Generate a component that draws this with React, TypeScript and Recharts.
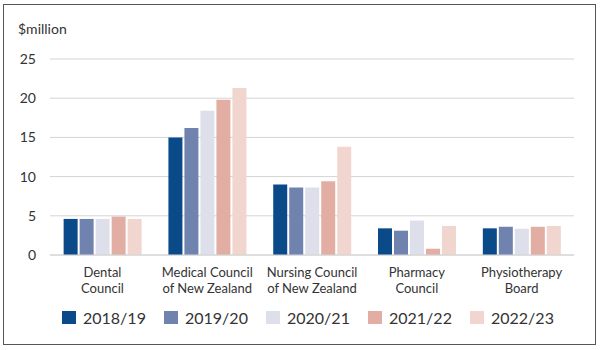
import { Bar, BarChart, CartesianGrid, XAxis, YAxis } from "recharts";

const councils = [
  "Dental Council",
  "Medical Council of New Zealand",
  "Nursing Council of New Zealand",
  "Pharmacy Council",
  "Physiotherapy Board",
];
const tickLines: string[][] = [
  ["Dental", "Council"],
  ["Medical Council", "of New Zealand"],
  ["Nursing Council", "of New Zealand"],
  ["Pharmacy", "Council"],
  ["Physiotherapy", "Board"],
];
const years = ["2018/19", "2019/20", "2020/21", "2021/22", "2022/23"];
const y2018 = [4.6, 15.0, 9.0, 3.4, 3.4];
const y2019 = [4.6, 16.2, 8.6, 3.1, 3.6];
const y2020 = [4.6, 18.4, 8.6, 4.4, 3.35];
const y2021 = [4.9, 19.8, 9.4, 0.8, 3.6];
const y2022 = [4.6, 21.3, 13.8, 3.7, 3.7];
const yTicks = [0, 5, 10, 15, 20, 25];

const colors = ["#0a4a89", "#7083af", "#dde0eb", "#e2aea3", "#f1d5cf"];
const font = "Lato, 'Noto Sans', sans-serif";

const data = councils.map((name, i) => ({
  name,
  [years[0]]: y2018[i],
  [years[1]]: y2019[i],
  [years[2]]: y2020[i],
  [years[3]]: y2021[i],
  [years[4]]: y2022[i],
}));

function CouncilTick(props: any) {
  const { x, y, payload } = props;
  const lines = tickLines[councils.indexOf(payload.value)] || [payload.value];
  return (
    <g transform={`translate(${x},${y})`}>
      {lines.map((l, i) => (
        <text
          key={i}
          x={0}
          y={14 + i * 16}
          textAnchor="middle"
          fill="#333"
          fontSize={13}
          fontFamily={font}
        >
          {l}
        </text>
      ))}
    </g>
  );
}

export default function App() {
  return (
    <div
      style={{
        position: "fixed",
        left: 0,
        top: 0,
        width: 600,
        height: 350,
        background: "#fff",
        fontFamily: font,
      }}
    >
      <div
        style={{
          position: "absolute",
          left: 3,
          top: 4,
          width: 591,
          height: 339,
          border: "1px solid #555",
        }}
      />
      <div
        style={{
          position: "absolute",
          left: 18,
          top: 20,
          fontSize: 14,
          color: "#333",
        }}
      >
        $million
      </div>
      <BarChart
        width={600}
        height={350}
        data={data}
        margin={{ top: 59, right: 26, bottom: 40, left: 0 }}
        barCategoryGap="13%"
        barGap={2}
      >
        <CartesianGrid vertical={false} stroke="#d4d4d4" />
        <XAxis
          dataKey="name"
          tick={<CouncilTick />}
          tickLine={false}
          axisLine={{ stroke: "#d4d4d4" }}
          height={55}
          interval={0}
        />
        <YAxis
          domain={[0, 25]}
          ticks={yTicks}
          tickLine={false}
          axisLine={false}
          width={50}
          tickMargin={8}
          tick={{ fill: "#333", fontSize: 14, fontFamily: font }}
        />
        {years.map((yr, i) => (
          <Bar key={yr} dataKey={yr} fill={colors[i]} isAnimationActive={false} />
        ))}
      </BarChart>
      <div
        style={{
          position: "absolute",
          left: 62,
          top: 308,
          display: "flex",
          fontSize: 16,
          color: "#333",
        }}
      >
        {years.map((yr, i) => (
          <div key={yr} style={{ display: "flex", alignItems: "center", width: 102 }}>
            <span
              style={{
                display: "inline-block",
                width: 14,
                height: 13,
                background: colors[i],
                marginRight: 7,
              }}
            />
            {yr}
          </div>
        ))}
      </div>
    </div>
  );
}
